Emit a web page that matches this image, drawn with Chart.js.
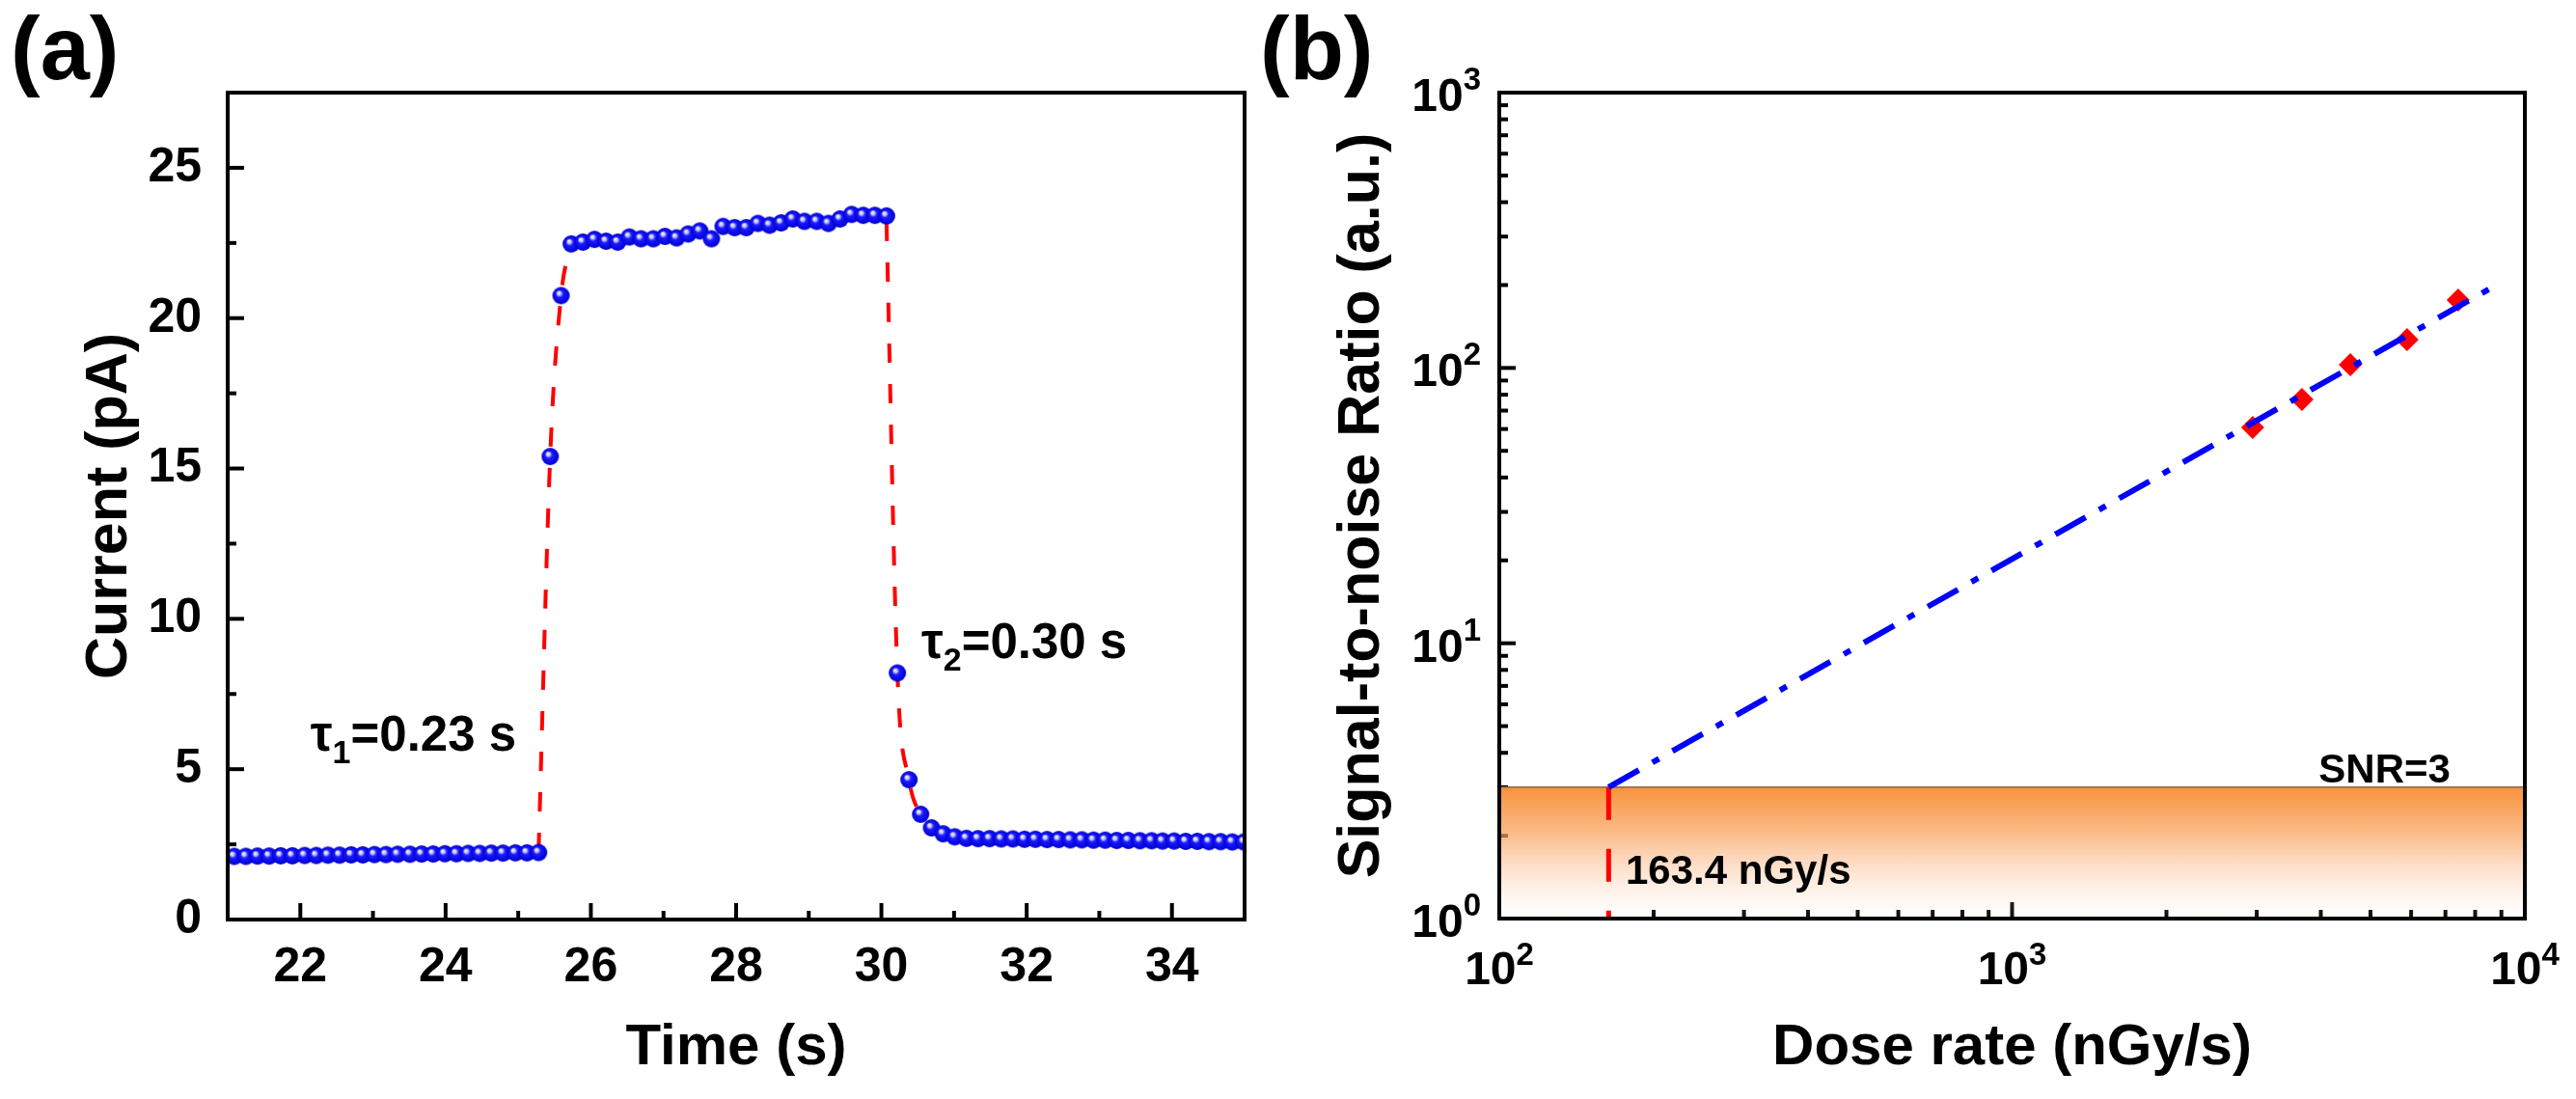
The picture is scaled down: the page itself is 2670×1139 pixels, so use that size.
<!DOCTYPE html>
<html>
<head>
<meta charset="utf-8">
<script src="https://cdn.jsdelivr.net/npm/chart.js@4.4.1/dist/chart.umd.min.js"></script>
<style>
  html, body { margin: 0; padding: 0; background: #fff; }
  body { width: 2670px; height: 1139px; position: relative; overflow: hidden; font-family: 'Liberation Sans', Arial, sans-serif; }
  canvas { position: absolute; top: 0; }
  #chartA { left: 0; }
  #chartB { left: 1300px; }
  .tag { position: absolute; top: 4px; font-weight: bold; font-size: 92px; line-height: 1; color: #000; }
</style>
</head>
<body>
<canvas id="chartA" width="1300" height="1139"></canvas>
<canvas id="chartB" width="1370" height="1139"></canvas>
<div class="tag" style="left:11px">(a)</div>
<div class="tag" style="left:1306px">(b)</div>
<script>
// ---- (a) photocurrent response ----
const timeA = [
  21.09, 21.25, 21.41, 21.57, 21.73, 21.89, 22.06, 22.22, 22.38, 22.54, 22.70, 22.86, 23.02, 23.18,
  23.34, 23.51, 23.67, 23.83, 23.99, 24.15, 24.31, 24.47, 24.63, 24.79, 24.96, 25.12, 25.28,
  25.44, 25.59,
  25.73, 25.89, 26.05, 26.21, 26.37, 26.53, 26.69, 26.86, 27.02, 27.18, 27.34, 27.50, 27.66, 27.82,
  27.98, 28.14, 28.30, 28.46, 28.62, 28.78, 28.94, 29.11, 29.27, 29.43, 29.59, 29.75, 29.91, 30.07,
  30.22, 30.38, 30.54, 30.69, 30.85,
  31.01, 31.17, 31.33, 31.49, 31.65, 31.81, 31.97, 32.12, 32.28, 32.44, 32.60, 32.76, 32.92,
  33.08, 33.24, 33.40, 33.56, 33.72, 33.87, 34.03, 34.19, 34.35, 34.51, 34.67, 34.83, 34.99
];
const currentA = [
  2.10, 2.10, 2.11, 2.11, 2.12, 2.12, 2.13, 2.13, 2.14, 2.14, 2.15, 2.15, 2.16, 2.16,
  2.17, 2.17, 2.18, 2.18, 2.19, 2.19, 2.20, 2.20, 2.21, 2.21, 2.22, 2.22, 2.23,
  15.4, 20.75,
  22.47, 22.53, 22.62, 22.56, 22.53, 22.70, 22.64, 22.64, 22.72, 22.67, 22.80, 22.90, 22.64, 23.05,
  23.01, 23.01, 23.15, 23.09, 23.17, 23.30, 23.22, 23.22, 23.15, 23.30, 23.45, 23.42, 23.42, 23.40,
  8.2, 4.65, 3.5, 3.05, 2.85,
  2.75, 2.70, 2.69, 2.69, 2.68, 2.68, 2.67, 2.67, 2.66, 2.66, 2.65, 2.65, 2.64,
  2.64, 2.63, 2.63, 2.62, 2.62, 2.61, 2.61, 2.60, 2.60, 2.59, 2.59, 2.58, 2.58
];
const riseFitTime = [25.28, 25.44, 25.59, 25.70];
const riseFitCurrent = [2.25, 15.4, 20.75, 22.3];
const fallFitTime = [30.07, 30.22, 30.38, 30.54, 30.69, 30.85];
const fallFitCurrent = [23.2, 8.2, 4.65, 3.5, 3.05, 2.85];
const xTicksA = [22, 24, 26, 28, 30, 32, 34];
const yTicksA = [0, 5, 10, 15, 20, 25];

// ---- (b) SNR vs dose rate ----
const doseRate = [2946, 3675, 4566, 5892, 7413];
const snr = [60.8, 76.9, 102.8, 126.8, 176.5];
const fitDose = [163.4, 8500];
const fitSnr = [3, 193];
const limitDose = 163.4;
const snrThreshold = 3;
const xExpB = [2, 3, 4];
const yExpB = [0, 1, 2, 3];

const FONT = "'Liberation Sans', Arial, sans-serif";
const pts = (xs, ys) => xs.map((v, i) => ({ x: v, y: ys[i] }));

function ball(r) {
  const c = document.createElement('canvas');
  c.width = c.height = 2 * r + 2;
  const g = c.getContext('2d');
  const m = r + 1;
  const grad = g.createRadialGradient(m - r * 0.3, m - r * 0.35, 0, m, m, r);
  grad.addColorStop(0, '#ffffff');
  grad.addColorStop(0.22, '#c0c0ff');
  grad.addColorStop(0.42, '#1a1aff');
  grad.addColorStop(1, '#0000d0');
  g.fillStyle = grad;
  g.beginPath();
  g.arc(m, m, r, 0, Math.PI * 2);
  g.fill();
  return c;
}

function minorBetween(ticks, min, max) {
  const step = ticks[1] - ticks[0];
  return [ticks[0] - step / 2].concat(ticks.map(v => v + step / 2)).filter(v => v > min && v < max);
}

function logMinor(lo, hi) {
  const out = [];
  for (let d = lo; d < hi; d++) for (let k = 2; k <= 9; k++) out.push(k * 10 ** d);
  return out;
}

// inward ticks under the data, frame on top
function axisFrame(cfg) {
  return {
    id: 'axisFrame',
    beforeDatasetsDraw(chart) {
      const { ctx, chartArea: a, scales: { x, y } } = chart;
      ctx.save();
      ctx.strokeStyle = '#000';
      ctx.lineWidth = 4;
      const mark = (x0, y0, x1, y1) => { ctx.beginPath(); ctx.moveTo(x0, y0); ctx.lineTo(x1, y1); ctx.stroke(); };
      cfg.xMajor.forEach(v => { const p = x.getPixelForValue(v); mark(p, a.bottom, p, a.bottom - 17); });
      cfg.xMinor.forEach(v => { const p = x.getPixelForValue(v); mark(p, a.bottom, p, a.bottom - 9); });
      cfg.yMajor.forEach(v => { const p = y.getPixelForValue(v); mark(a.left, p, a.left + 17, p); });
      cfg.yMinor.forEach(v => { const p = y.getPixelForValue(v); mark(a.left, p, a.left + 9, p); });
      ctx.restore();
    },
    afterDraw(chart) {
      const { ctx, chartArea: a } = chart;
      ctx.save();
      ctx.strokeStyle = '#000';
      ctx.lineWidth = 4;
      ctx.strokeRect(a.left, a.top, a.right - a.left, a.bottom - a.top);
      ctx.restore();
    }
  };
}

function richText(ctx, parts, x, y, align) {
  let w = 0;
  parts.forEach(p => { ctx.font = `bold ${p.size}px ${FONT}`; p.w = ctx.measureText(p.text).width; w += p.w; });
  let cx = align === 'right' ? x - w : align === 'center' ? x - w / 2 : x;
  ctx.textAlign = 'left';
  ctx.textBaseline = 'alphabetic';
  parts.forEach(p => {
    ctx.font = `bold ${p.size}px ${FONT}`;
    ctx.fillText(p.text, cx, y + (p.dy || 0));
    cx += p.w;
  });
}

function notes(items) {
  return {
    id: 'notes',
    afterDraw(chart) {
      const { ctx, scales: { x, y } } = chart;
      ctx.save();
      ctx.fillStyle = '#000';
      items.forEach(n => richText(ctx, n.parts, x.getPixelForValue(n.x), y.getPixelForValue(n.y), n.align));
      ctx.restore();
    }
  };
}

// 10^n tick labels for the log axes
const powerLabels = {
  id: 'powerLabels',
  afterDraw(chart) {
    const { ctx, chartArea: a, scales: { x, y } } = chart;
    ctx.save();
    ctx.fillStyle = '#000';
    xExpB.forEach(e => {
      const parts = [{ text: '10', size: 48 }, { text: String(e), size: 33, dy: -20 }];
      richText(ctx, parts, x.getPixelForValue(10 ** e), a.bottom + 68, 'center');
    });
    yExpB.forEach(e => {
      const parts = [{ text: '10', size: 48 }, { text: String(e), size: 33, dy: -22 }];
      richText(ctx, parts, a.left - 19, y.getPixelForValue(10 ** e) + 19, 'right');
    });
    ctx.restore();
  }
};

function bandFill(c) {
  const { chart } = c;
  const ys = chart.scales.y;
  const top = ys ? ys.getPixelForValue(snrThreshold) : NaN;
  const bottom = ys ? ys.getPixelForValue(1) : NaN;
  if (!chart.chartArea || !isFinite(top) || !isFinite(bottom) || top === bottom) return 'rgba(248,146,60,0.5)';
  const g = chart.ctx.createLinearGradient(0, top, 0, bottom);
  g.addColorStop(0, 'rgba(248,146,60,1)');
  g.addColorStop(0.35, 'rgba(249,160,90,0.72)');
  g.addColorStop(0.75, 'rgba(251,190,150,0.25)');
  g.addColorStop(1, 'rgba(255,230,215,0.05)');
  return g;
}

const tickFont = { family: FONT, size: 50, weight: 'bold' };
const titleFont = { family: FONT, size: 60, weight: 'bold' };

new Chart(document.getElementById('chartA'), {
  type: 'scatter',
  data: {
    datasets: [
      { data: pts(timeA, currentA), pointStyle: ball(9), pointRadius: 9 },
      { data: pts(riseFitTime, riseFitCurrent), showLine: true, pointRadius: 0, borderColor: '#ff0000',
        borderWidth: 4, borderDash: [20, 22], cubicInterpolationMode: 'monotone' },
      { data: pts(fallFitTime, fallFitCurrent), showLine: true, pointRadius: 0, borderColor: '#ff0000',
        borderWidth: 4, borderDash: [20, 22], cubicInterpolationMode: 'monotone' }
    ]
  },
  options: {
    responsive: false,
    animation: false,
    events: [],
    layout: { padding: { top: 96, right: 4, left: 0, bottom: 0 } },
    plugins: { legend: { display: false }, tooltip: { enabled: false } },
    scales: {
      x: {
        type: 'linear', min: 21, max: 35,
        afterBuildTicks: s => { s.ticks = xTicksA.map(v => ({ value: v })); },
        afterFit: s => { s.height = 186; },
        grid: { display: false }, border: { display: false },
        ticks: { font: tickFont, color: '#000', padding: 12 },
        title: { display: true, text: 'Time (s)', font: titleFont, color: '#000', padding: { top: 0, bottom: 17 } }
      },
      y: {
        type: 'linear', min: 0, max: 27.5,
        afterBuildTicks: s => { s.ticks = yTicksA.map(v => ({ value: v })); },
        afterFit: s => { s.width = 236; },
        grid: { display: false }, border: { display: false },
        ticks: { font: tickFont, color: '#000', padding: 19 },
        title: { display: true, text: 'Current (pA)', font: { ...titleFont, size: 61 }, color: '#000', padding: { top: 78, bottom: 0 } }
      }
    }
  },
  plugins: [
    axisFrame({ xMajor: xTicksA, xMinor: minorBetween(xTicksA, 21, 35), yMajor: yTicksA, yMinor: minorBetween(yTicksA, 0, 27.5) }),
    notes([
      { x: 22.14, y: 5.6, align: 'left', parts: [{ text: 'τ', size: 51 }, { text: '1', size: 34, dy: 13 }, { text: '=0.23 s', size: 51 }] },
      { x: 30.55, y: 8.69, align: 'left', parts: [{ text: 'τ', size: 51 }, { text: '2', size: 34, dy: 13 }, { text: '=0.30 s', size: 51 }] }
    ])
  ]
});

new Chart(document.getElementById('chartB'), {
  type: 'scatter',
  data: {
    datasets: [
      { type: 'line', data: pts(fitDose, fitSnr), pointRadius: 0, borderColor: '#0000ff', borderWidth: 6,
        borderDash: [36, 16, 8, 16], fill: false },
      { data: pts(doseRate, snr), pointStyle: 'rectRot', pointRadius: 12, backgroundColor: '#ff0000',
        borderColor: '#ff0000', borderWidth: 0 },
      { type: 'line', data: [{ x: limitDose, y: snrThreshold }, { x: limitDose, y: 1 }], pointRadius: 0,
        borderColor: '#ff0000', borderWidth: 5, borderDash: [34, 30], fill: false },
      { type: 'line', data: [{ x: 100, y: snrThreshold }, { x: 10000, y: snrThreshold }], pointRadius: 0,
        borderColor: 'rgba(120,95,70,0.9)', borderWidth: 1.5, fill: 'start', backgroundColor: bandFill }
    ]
  },
  options: {
    responsive: false,
    animation: false,
    events: [],
    layout: { padding: { top: 96, right: 53, left: 0, bottom: 0 } },
    plugins: { legend: { display: false }, tooltip: { enabled: false } },
    scales: {
      x: {
        type: 'logarithmic', min: 100, max: 10000,
        afterFit: s => { s.height = 187; },
        grid: { display: false }, border: { display: false },
        ticks: { display: false },
        title: { display: true, text: 'Dose rate (nGy/s)', font: titleFont, color: '#000', padding: { top: 0, bottom: 17 } }
      },
      y: {
        type: 'logarithmic', min: 1, max: 1000,
        afterFit: s => { s.width = 254; },
        grid: { display: false }, border: { display: false },
        ticks: { display: false },
        title: { display: true, text: 'Signal-to-noise Ratio (a.u.)', font: { ...titleFont, size: 61 }, color: '#000', padding: { top: 76, bottom: 0 } }
      }
    }
  },
  plugins: [
    axisFrame({ xMajor: [1000], xMinor: logMinor(2, 4), yMajor: [10, 100], yMinor: logMinor(0, 3) }),
    powerLabels,
    notes([
      { x: 7160, y: 3.12, align: 'right', parts: [{ text: 'SNR=3', size: 42 }] },
      { x: 176.4, y: 1.337, align: 'left', parts: [{ text: '163.4 nGy/s', size: 42 }] }
    ])
  ]
});
</script>
</body>
</html>
